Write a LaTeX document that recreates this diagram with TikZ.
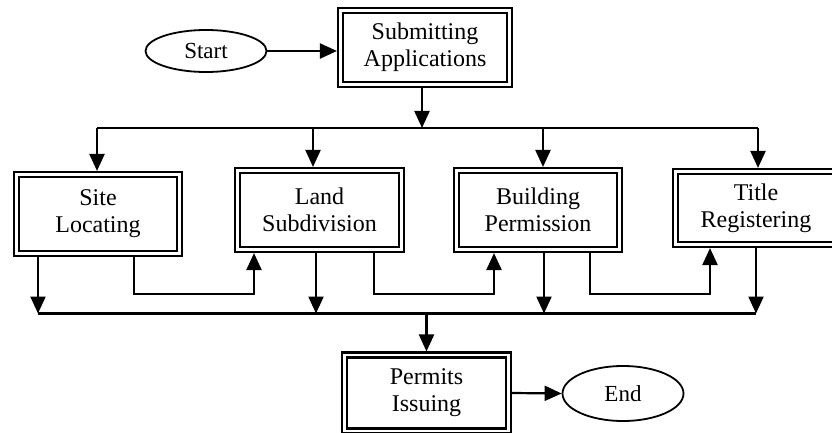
\documentclass[tikz,border=0pt]{standalone}
\usepackage{fontspec}
\setmainfont{Liberation Serif}
\usetikzlibrary{arrows.meta,shapes.geometric,calc}
\tikzset{
  box/.style={draw, double, double distance=2.5pt, line width=2.3pt, inner sep=0pt,
    outer sep=3.55pt, align=center, font=\fontsize{24}{27}\selectfont},
  oval/.style={draw, ellipse, line width=1.8pt, inner sep=0pt, outer sep=0.9pt,
    font=\fontsize{23}{26}\selectfont},
  arr/.style={line width=2.2pt, -{Triangle[length=17pt,width=15pt]}},
  ln/.style={line width=2.2pt}
}
\begin{document}
\begin{tikzpicture}[x=1pt,y=-1pt]
\useasboundingbox (0,0) rectangle (832,433);
\clip (0,0) rectangle (832,433);
% nodes
\node[oval, minimum width=121pt, minimum height=42pt] (start) at (206,51) {Start};
\node[box, minimum width=169pt, minimum height=74pt] (sub) at (425,47.5) {Submitting\\Applications};
\node[box, minimum width=163pt, minimum height=79pt] (site) at (98,214) {Site\\Locating};
\node[box, minimum width=164pt, minimum height=79pt] (land) at (319.5,210) {Land\\Subdivision};
\node[box, minimum width=163pt, minimum height=79pt] (bld) at (538,210) {Building\\Permission};
\node[box, minimum width=161pt, minimum height=73pt] (title) at (756,208) {Title\\Registering};
\node[box, minimum width=164pt, minimum height=76pt] (permits) at (426.5,393) {Permits\\Issuing};
\node[oval, minimum width=121pt, minimum height=55pt] (end) at (623,393.5) {End};
% bus coordinates
\coordinate (topL) at (97,128);
\coordinate (topR) at (758,128);
\coordinate (busL) at (38,313.5);
\coordinate (busR) at (756,313.5);
\coordinate (busJ) at (426.5,313.5);
% top part
\draw[arr] (start.east) -- (sub.west |- start.east);
\draw[arr] ([xshift=-3pt]sub.south) -- ([xshift=-3pt]sub.south |- topL);
\draw[ln] (topL) -- (topR);
\draw[arr] (topL) -- (topL |- site.north);
\draw[arr] ([xshift=-6.5pt]land.north |- topL) -- ([xshift=-6.5pt]land.north);
\draw[arr] ([xshift=5pt]bld.north |- topL) -- ([xshift=5pt]bld.north);
\draw[arr] (topR) -- (topR |- title.north);
% lower part
\draw[arr] ([xshift=-60pt]site.south) -- ([xshift=-60pt]site.south |- busL);
\draw[arr] ([xshift=36pt]site.south) -- ++(0,37) -| ([xshift=-65.5pt]land.south);
\draw[arr] ([xshift=-3.5pt]land.south) -- ([xshift=-3.5pt]land.south |- busL);
\draw[arr] ([xshift=54.5pt]land.south) -- ++(0,41) -| ([xshift=-44pt]bld.south);
\draw[arr] ([xshift=6pt]bld.south) -- ([xshift=6pt]bld.south |- busL);
\draw[arr] ([xshift=52pt]bld.south) -- ++(0,41) -| ([xshift=-46pt]title.south);
\draw[arr] (title.south) -- (title.south |- busR);
\draw[ln] (busL) -- (busR);
\draw[arr] (busJ) -- (permits.north);
\draw[arr] (permits.east) -- (end.west);
\end{tikzpicture}
\end{document}
